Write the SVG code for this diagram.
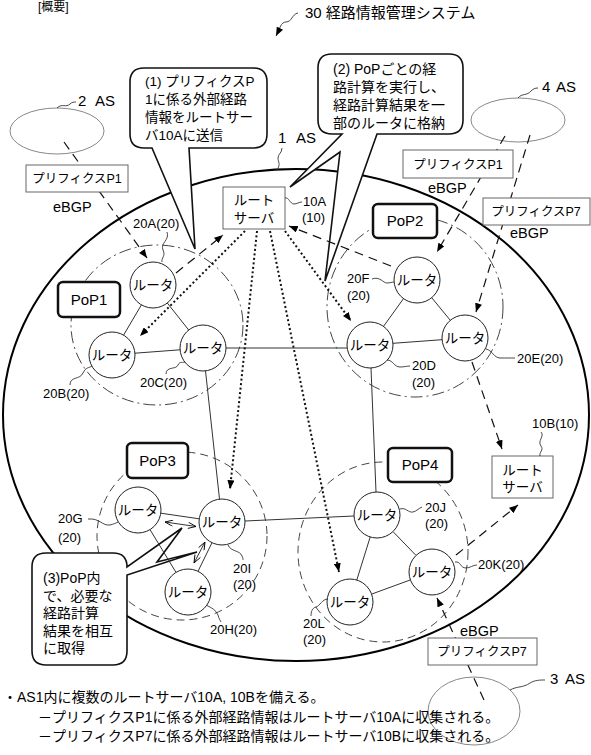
<svg xmlns="http://www.w3.org/2000/svg" width="591" height="755" viewBox="0 0 591 755">
<style>
text{font-family:"Liberation Sans","Noto Sans CJK JP",sans-serif;fill:#000}
.rc{fill:#fff;stroke:#222;stroke-width:1}
.rt{font-size:13.5px;text-anchor:middle}
.pop{fill:#fff;stroke:#111;stroke-width:2.5}
.pt{font-size:15px;text-anchor:middle}
.box{fill:#fff;stroke:#666;stroke-width:1}
.bt{font-size:12.5px;text-anchor:middle}
.lab{font-size:13px}
.dash{stroke:#111;stroke-width:1.2;stroke-dasharray:9 6;fill:none}
.dot{stroke:#111;stroke-width:2;stroke-dasharray:2 2.5;fill:none}
.ln{stroke:#333;stroke-width:1;fill:none}
.lead{stroke:#333;stroke-width:0.9;fill:none}
.popc{fill:none;stroke:#444;stroke-width:1;stroke-dasharray:12 4 2 4}
.popd{fill:none;stroke:#444;stroke-width:1;stroke-dasharray:8 5}
.bub{fill:#fff;stroke:#111;stroke-width:1.6;stroke-linejoin:miter}
.bx{font-size:13.5px}
.as{fill:none;stroke:#888;stroke-width:1}
</style>
<defs>
<marker id="ah" viewBox="0 0 10 8" refX="10" refY="4" markerWidth="9" markerHeight="7" orient="auto" markerUnits="userSpaceOnUse"><path d="M0,0 L10,4 L0,8 Z" fill="#000"/></marker>
<marker id="oa" viewBox="0 0 10 8" refX="10" refY="4" markerWidth="9" markerHeight="7" orient="auto-start-reverse" markerUnits="userSpaceOnUse"><path d="M1,0.5 L10,4 L1,7.5" fill="none" stroke="#000" stroke-width="1"/></marker>
</defs>
<rect width="591" height="755" fill="#fff"/>

<!-- header -->
<text x="38" y="11" font-size="12">[概要]</text>
<text x="305" y="18" font-size="15">30 経路情報管理システム</text>
<path d="M298,13 C292,14 292,22 286,22 C281,22 280,28 276,36" class="lead" marker-end="url(#ah)"/>

<!-- AS 1 big ellipse -->
<g id="as1">
<ellipse cx="296" cy="415" rx="293" ry="246" fill="none" stroke="#000" stroke-width="2"/>
<text x="278" y="143" font-size="15">1</text><text x="296" y="143" font-size="15">AS</text>
<path d="M282,148 C282,153 278,154 278,158 C278,162 281,164 277,170" class="lead"/>
</g>

<!-- external ASes -->
<g id="as2">
<ellipse cx="57" cy="131" rx="47" ry="23" class="as"/>
<path d="M57,108 C62,103 66,108 70,104 C72,102 74,102 76,102" class="lead"/>
<text x="78" y="106" font-size="15">2</text><text x="95" y="106" font-size="15">AS</text>
</g>
<g id="as4">
<ellipse cx="518" cy="120" rx="47" ry="22" class="as"/>
<path d="M518,98 C522,93 527,96 531,91 C533,89 535,88 538,88" class="lead"/>
<text x="542" y="92" font-size="15">4</text><text x="556" y="92" font-size="15">AS</text>
</g>
<g id="as3">
<ellipse cx="474" cy="711" rx="46" ry="34" class="as"/>
<path d="M510,690 C517,686 523,688 530,683 C535,680 540,680 545,680" class="lead"/>
<text x="550" y="684" font-size="15">3</text><text x="565" y="684" font-size="15">AS</text>
</g>

<!-- PoP boundaries -->
<g id="popareas">
<ellipse cx="157" cy="325" rx="86" ry="80" class="popc"/>
<ellipse cx="415" cy="307" rx="88" ry="90" class="popc"/>
<ellipse cx="182" cy="536" rx="85" ry="84" class="popd"/>
<ellipse cx="383" cy="552" rx="85" ry="90" class="popd"/>
</g>

<!-- speech bubbles -->
<g id="bubble1">
<path class="bub" d="M144,68 H253 Q267,68 267,82 V134 Q267,148 253,148 H189 L195,249 L152,148 H144 Q130,148 130,134 V82 Q130,68 144,68 Z"/>
<text class="bx" x="145" y="86">(1) プリフィクスP</text>
<text class="bx" x="145" y="104">1に係る外部経路</text>
<text class="bx" x="145" y="122">情報をルートサー</text>
<text class="bx" x="145" y="140">バ10Aに送信</text>
</g>
<g id="bubble2">
<path class="bub" d="M332,54 H449 Q463,54 463,68 V120 Q463,134 449,134 H377 L325,281 L340,152 L290,187 L342,134 H332 Q318,134 318,120 V68 Q318,54 332,54 Z"/>
<text x="333" y="74" font-size="14">(2) PoPごとの経</text>
<text x="333" y="92" font-size="14">路計算を実行し、</text>
<text x="333" y="110" font-size="14">経路計算結果を一</text>
<text x="333" y="128" font-size="14">部のルータに格納</text>
</g>
<g id="bubble3">
<path class="bub" d="M46,553 H113 Q127,553 127,567 L182,528 L157,562 L197,552 L127,575 V651 Q127,665 113,665 H46 Q32,665 32,651 V567 Q32,553 46,553 Z"/>
<text x="43" y="583" font-size="14">(3)PoP内</text>
<text x="43" y="600.5" font-size="14">で、必要な</text>
<text x="43" y="618" font-size="14">経路計算</text>
<text x="43" y="635.5" font-size="14">結果を相互</text>
<text x="43" y="653" font-size="14">に取得</text>
</g>

<!-- connectors -->
<g id="connectors">
<line class="ln" x1="141.4" y1="304.9" x2="123.6" y2="335.1"/>
<line class="ln" x1="167.3" y1="303" x2="188.7" y2="330"/>
<line class="ln" x1="135" y1="353.2" x2="180" y2="349.8"/>
<line class="ln" x1="403.5" y1="298.6" x2="383.5" y2="326.4"/>
<line class="ln" x1="431.7" y1="297.7" x2="450.3" y2="320.3"/>
<line class="ln" x1="393" y1="343.3" x2="442" y2="339.7"/>
<line class="ln" x1="160.8" y1="513.2" x2="199.2" y2="518.8"/>
<line class="ln" x1="150" y1="529.6" x2="176" y2="572.4"/>
<line class="ln" x1="212" y1="542.7" x2="198" y2="571.3"/>
<line class="ln" x1="393" y1="531.6" x2="416" y2="555.4"/>
<line class="ln" x1="370.2" y1="537" x2="356.8" y2="580"/>
<line class="ln" x1="410.4" y1="579.9" x2="371.6" y2="594.1"/>
<line class="ln" x1="226" y1="348" x2="347" y2="348"/>
<line class="ln" x1="205.5" y1="370.9" x2="219.5" y2="499.1"/>
<line class="ln" x1="371" y1="368" x2="376" y2="492"/>
<line class="ln" x1="245" y1="521" x2="354" y2="516"/>
<line class="ln" x1="165" y1="522" x2="196" y2="526.5" marker-start="url(#oa)" marker-end="url(#oa)"/>
<line class="ln" x1="194" y1="563" x2="205" y2="542" marker-start="url(#oa)" marker-end="url(#oa)"/>
<line class="dot" x1="245" y1="231" x2="140" y2="336" marker-end="url(#ah)"/>
<line class="dot" x1="257" y1="231" x2="230" y2="489" marker-end="url(#ah)"/>
<line class="dot" x1="270" y1="231" x2="339" y2="572" marker-end="url(#ah)"/>
<line class="dot" x1="285" y1="231" x2="351" y2="321" marker-end="url(#ah)"/>
<line class="dash" x1="64" y1="142" x2="147" y2="258" marker-end="url(#ah)"/>
<line class="dash" x1="176" y1="273" x2="223" y2="235" marker-end="url(#ah)"/>
<line class="dash" x1="391" y1="266" x2="289" y2="226" marker-end="url(#ah)"/>
<line class="dash" x1="505" y1="136" x2="437" y2="252" marker-end="url(#ah)"/>
<line class="dash" x1="530" y1="135" x2="476" y2="312" marker-end="url(#ah)"/>
<line class="dash" x1="472" y1="362" x2="502" y2="449" marker-end="url(#ah)"/>
<line class="dash" x1="456" y1="555" x2="518" y2="505" marker-end="url(#ah)"/>
<line class="dash" x1="484" y1="700" x2="437" y2="598" marker-end="url(#ah)"/>
</g>

<!-- prefix boxes -->
<g id="prefix-p1-as2">
<rect class="box" x="26" y="165" width="102" height="27"/>
<text class="bt" x="77" y="183">プリフィクスP1</text>
<text x="53" y="212" font-size="14.5">eBGP</text>
</g>
<g id="prefix-p1-as4">
<rect class="box" x="403" y="150" width="110" height="28"/>
<text class="bt" x="458" y="169">プリフィクスP1</text>
<text x="428" y="193" font-size="14.5">eBGP</text>
</g>
<g id="prefix-p7-as4">
<rect class="box" x="483" y="198" width="107" height="27"/>
<text class="bt" x="536" y="216">プリフィクスP7</text>
<text x="510" y="238" font-size="14.5">eBGP</text>
</g>
<g id="prefix-p7-as3">
<rect class="box" x="428" y="638" width="109" height="27"/>
<text class="bt" x="482" y="656">プリフィクスP7</text>
<text x="460" y="636" font-size="14.5">eBGP</text>
</g>

<!-- route servers -->
<g id="rs10A">
<rect class="box" x="223" y="187" width="62" height="42"/>
<text class="rt" x="254" y="205">ルート</text>
<text class="rt" x="254" y="223">サーバ</text>
<path d="M285,198 C289,197 290,204 294,204 C297,204 299,202 302,202" class="lead"/>
<text class="lab" x="303" y="206">10A</text>
<text class="lab" x="302" y="222">(10)</text>
</g>
<g id="rs10B">
<rect class="box" x="492" y="456" width="61" height="42"/>
<text class="rt" x="522.5" y="475">ルート</text>
<text class="rt" x="522.5" y="492">サーバ</text>
<path d="M541,432 C545,436 537,441 541,446 C544,450 539,452 540,456" class="lead"/>
<text class="lab" x="532" y="428">10B(10)</text>
</g>

<!-- PoP labels -->
<g id="pop1"><rect class="pop" x="58" y="282" width="62" height="35" rx="5"/><text class="pt" x="89" y="305">PoP1</text></g>
<g id="pop2"><rect class="pop" x="373" y="204" width="64" height="34" rx="5"/><text class="pt" x="405" y="226">PoP2</text></g>
<g id="pop3"><rect class="pop" x="127" y="443" width="61" height="35" rx="5"/><text class="pt" x="157.5" y="466">PoP3</text></g>
<g id="pop4"><rect class="pop" x="388" y="448" width="64" height="34" rx="5"/><text class="pt" x="420" y="470">PoP4</text></g>

<!-- routers -->
<g id="r20A"><circle class="rc" cx="153" cy="285" r="23"/><text class="rt" x="153" y="290">ルータ</text>
<path d="M167,232 C170,240 160,243 163,250 C166,256 161,258 162,262" class="lead"/><text class="lab" x="133" y="228">20A(20)</text></g>
<g id="r20B"><circle class="rc" cx="112" cy="355" r="23"/><text class="rt" x="112" y="360">ルータ</text>
<path d="M70,385 C70,376 80,380 83,373 C86,367 89,368 92,366" class="lead"/><text class="lab" x="43" y="398">20B(20)</text></g>
<g id="r20C"><circle class="rc" cx="203" cy="348" r="23"/><text class="rt" x="203" y="353">ルータ</text>
<path d="M166,374 C166,366 176,370 178,365 C180,361 183,363 185,362" class="lead"/><text class="lab" x="140" y="387">20C(20)</text></g>
<g id="r20F"><circle class="rc" cx="417" cy="280" r="23"/><text class="rt" x="417" y="285">ルータ</text>
<path d="M372,279 C380,276 383,283 387,283 C390,283 392,282 394,282" class="lead"/><text class="lab" x="347" y="283">20F</text><text class="lab" x="347" y="300">(20)</text></g>
<g id="r20D"><circle class="rc" cx="370" cy="345" r="23"/><text class="rt" x="370" y="350">ルータ</text>
<path d="M387,360 C393,360 394,367 400,367 C404,367 407,366 410,366" class="lead"/><text class="lab" x="412" y="370">20D</text><text class="lab" x="412" y="387">(20)</text></g>
<g id="r20E"><circle class="rc" cx="465" cy="338" r="23"/><text class="rt" x="465" y="343">ルータ</text>
<path d="M486,349 C492,350 494,358 500,358 C506,358 510,358 515,358" class="lead"/><text class="lab" x="517" y="363">20E(20)</text></g>
<g id="r20G"><circle class="rc" cx="138" cy="510" r="23"/><text class="rt" x="138" y="515">ルータ</text>
<path d="M88,519 C100,518 102,526 110,525 C114,524 116,523 118,522" class="lead"/><text class="lab" x="58" y="523">20G</text><text class="lab" x="58" y="542">(20)</text></g>
<g id="r20I"><circle class="rc" cx="222" cy="522" r="23"/><text class="rt" x="222" y="527">ルータ</text>
<path d="M228,545 C231,552 240,550 242,556 C243,558 243,559 243,560" class="lead"/><text class="lab" x="233" y="573">20I</text><text class="lab" x="233" y="589">(20)</text></g>
<g id="r20H"><circle class="rc" cx="188" cy="592" r="23"/><text class="rt" x="188" y="597">ルータ</text>
<path d="M206,605 C212,608 216,610 218,615 C219,619 220,620 221,622" class="lead"/><text class="lab" x="210" y="634">20H(20)</text></g>
<g id="r20J"><circle class="rc" cx="377" cy="515" r="23"/><text class="rt" x="377" y="520">ルータ</text>
<path d="M400,509 C406,507 408,513 413,512 C417,511 419,508 422,507" class="lead"/><text class="lab" x="425" y="512">20J</text><text class="lab" x="425" y="528">(20)</text></g>
<g id="r20K"><circle class="rc" cx="432" cy="572" r="23"/><text class="rt" x="432" y="577">ルータ</text>
<path d="M455,562 C461,561 460,568 466,568 C470,568 473,565 477,565" class="lead"/><text class="lab" x="478" y="569">20K(20)</text></g>
<g id="r20L"><circle class="rc" cx="350" cy="602" r="23"/><text class="rt" x="350" y="607">ルータ</text>
<path d="M328,599 C322,599 320,606 316,607 C312,608 311,612 311,616" class="lead"/><text class="lab" x="303" y="628">20L</text><text class="lab" x="303" y="644">(20)</text></g>

<!-- notes -->
<g id="notes">
<text x="3" y="702" font-size="14">・AS1内に複数のルートサーバ10A, 10Bを備える。</text>
<text x="38" y="722" font-size="14">－プリフィクスP1に係る外部経路情報はルートサーバ10Aに収集される。</text>
<text x="38" y="741" font-size="14">－プリフィクスP7に係る外部経路情報はルートサーバ10Bに収集される。</text>
</g>
</svg>
